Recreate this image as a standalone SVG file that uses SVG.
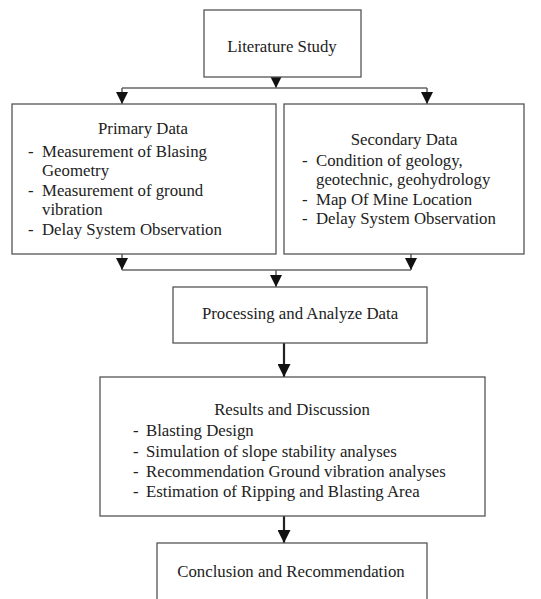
<svg xmlns="http://www.w3.org/2000/svg" width="541" height="599" viewBox="0 0 541 599">
<style>
.box{fill:#fff;stroke:#555;stroke-width:1.3}
.t{font-family:"Liberation Serif",serif;font-size:16.8px;fill:#222}
.c{text-anchor:middle}
.ln{stroke:#666;stroke-width:1.6;fill:none}
.thick{stroke:#222;stroke-width:2.2;fill:none}
</style>
<defs>
<marker id="ah" viewBox="0 0 10 10" refX="10" refY="5" markerWidth="12" markerHeight="12" markerUnits="userSpaceOnUse" orient="auto">
<path d="M0,0 L10,5 L0,10 z" fill="#111"/>
</marker>
<marker id="ah2" viewBox="0 0 10 10" refX="10" refY="5" markerWidth="13" markerHeight="13" markerUnits="userSpaceOnUse" orient="auto">
<path d="M0,0 L10,5 L0,10 z" fill="#111"/>
</marker>
</defs>
<rect width="541" height="599" fill="#fff"/>
<g id="connectors">
<path class="ln" d="M276,77 V88" marker-end="url(#ah)"/>
<path class="ln" d="M122,88 H427"/>
<path class="ln" d="M122,88 V104" marker-end="url(#ah)"/>
<path class="ln" d="M427,88 V104" marker-end="url(#ah)"/>
<path class="ln" d="M122,254 V270" marker-end="url(#ah)"/>
<path class="ln" d="M411,254 V270" marker-end="url(#ah)"/>
<path class="ln" d="M122,270 H411"/>
<path class="ln" d="M276,270 V287" marker-end="url(#ah)"/>
<path class="thick" d="M284,343 V377" marker-end="url(#ah2)"/>
<path class="thick" d="M284,516 V543" marker-end="url(#ah2)"/>
</g>
<g id="literature">
<rect class="box" x="204" y="10" width="157" height="67"/>
<text class="t c" x="282" y="52">Literature Study</text>
</g>
<g id="primary">
<rect class="box" x="12" y="104" width="264" height="150"/>
<text class="t c" x="143" y="134">Primary Data</text>
<text class="t" x="28" y="157">-</text><text class="t" x="42" y="157">Measurement of Blasing</text>
<text class="t" x="42" y="176">Geometry</text>
<text class="t" x="28" y="196">-</text><text class="t" x="42" y="196">Measurement of ground</text>
<text class="t" x="42" y="215">vibration</text>
<text class="t" x="28" y="235">-</text><text class="t" x="42" y="235">Delay System Observation</text>
</g>
<g id="secondary">
<rect class="box" x="284" y="104" width="240" height="150"/>
<text class="t c" x="404" y="145">Secondary Data</text>
<text class="t" x="302" y="166">-</text><text class="t" x="316" y="166">Condition of geology,</text>
<text class="t" x="316" y="185">geotechnic, geohydrology</text>
<text class="t" x="302" y="205">-</text><text class="t" x="316" y="205">Map Of Mine Location</text>
<text class="t" x="302" y="224">-</text><text class="t" x="316" y="224">Delay System Observation</text>
</g>
<g id="processing">
<rect class="box" x="173" y="287" width="254" height="56"/>
<text class="t c" x="300" y="319">Processing and Analyze Data</text>
</g>
<g id="results">
<rect class="box" x="100" y="377" width="385" height="139"/>
<text class="t c" x="292" y="415">Results and Discussion</text>
<text class="t" x="133" y="436">-</text><text class="t" x="146" y="436">Blasting Design</text>
<text class="t" x="133" y="457">-</text><text class="t" x="146" y="457">Simulation of slope stability analyses</text>
<text class="t" x="133" y="477">-</text><text class="t" x="146" y="477">Recommendation Ground vibration analyses</text>
<text class="t" x="133" y="497">-</text><text class="t" x="146" y="497">Estimation of Ripping and Blasting Area</text>
</g>
<g id="conclusion">
<rect class="box" x="157" y="543" width="270" height="70"/>
<text class="t c" x="291" y="577">Conclusion and Recommendation</text>
</g>
</svg>
